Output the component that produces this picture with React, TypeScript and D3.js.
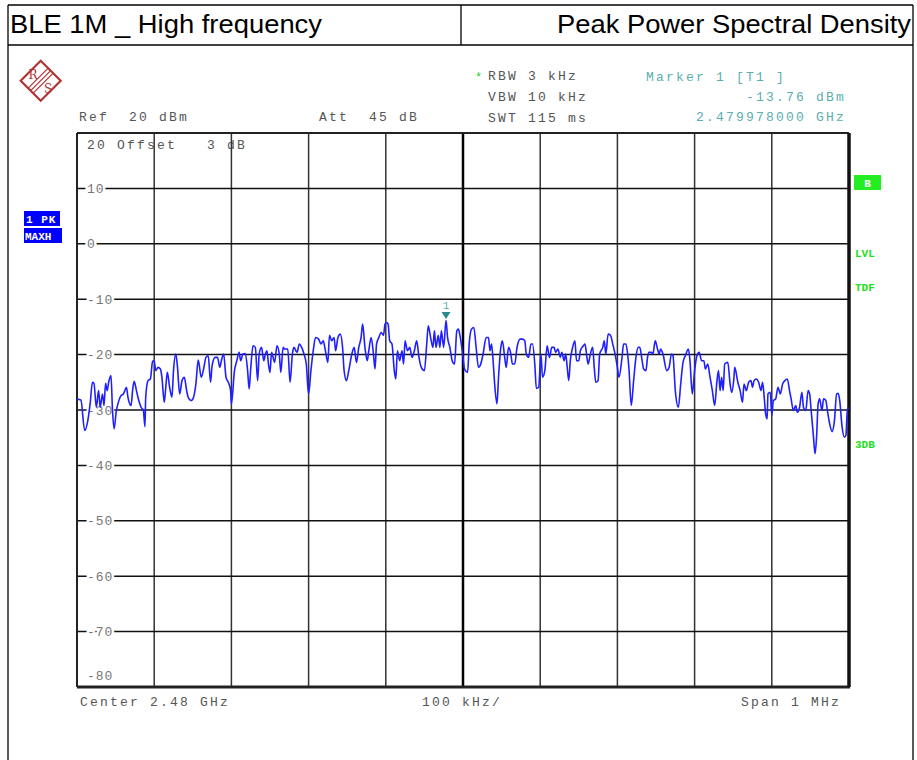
import React from 'react'
import * as d3 from 'd3'

// spectrum trace: [offset from center in kHz, level in dBm]
const trace: [number, number][] = [
  [-500, -28.0], [-495, -28.2], [-490, -33.7], [-486, -31.9], [-483, -28.9], [-480, -25.0], [-478, -25.2],
  [-475, -29.5], [-472, -26.5], [-470, -29.5], [-467, -27.1], [-465, -29.2], [-463, -25.2], [-461, -26.5],
  [-459, -25.0], [-456, -23.8], [-454, -30.1], [-452, -33.4], [-449, -30.1], [-447, -28.9], [-443, -27.4],
  [-440, -27.1], [-438, -26.5], [-436, -25.9], [-434, -27.7], [-430, -29.2], [-428, -26.5], [-426, -24.8],
  [-423, -26.5], [-420, -28.3], [-417, -29.5], [-414, -30.1], [-412, -33.0], [-411, -27.7], [-408, -24.7],
  [-405, -24.4], [-402, -21.2], [-400, -21.1], [-398, -22.9], [-395, -22.3], [-392, -22.6], [-390, -24.1],
  [-387, -28.6], [-385, -25.9], [-383, -23.2], [-380, -25.9], [-377, -27.7], [-375, -22.9], [-372, -19.9],
  [-370, -22.0], [-367, -27.1], [-364, -24.7], [-361, -24.1], [-358, -26.5], [-356, -27.7], [-352, -28.3],
  [-349, -27.7], [-346, -25.3], [-343, -21.0], [-339, -24.1], [-336, -22.6], [-333, -20.5], [-330, -20.2],
  [-327, -25.0], [-325, -22.0], [-321, -20.5], [-318, -20.5], [-315, -22.3], [-313, -21.1], [-310, -19.9],
  [-307, -24.1], [-304, -25.0], [-301, -26.5], [-300, -28.9], [-296, -22.9], [-293, -21.1], [-290, -19.6],
  [-288, -21.1], [-285, -19.9], [-282, -19.8], [-279, -22.9], [-277, -26.2], [-275, -22.6], [-272, -18.4],
  [-269, -18.7], [-266, -24.7], [-264, -19.9], [-261, -18.7], [-258, -21.1], [-256, -19.9], [-254, -19.3],
  [-252, -21.7], [-250, -23.2], [-248, -19.6], [-244, -21.4], [-241, -18.4], [-238, -19.9], [-236, -23.2],
  [-233, -18.7], [-231, -19.0], [-227, -19.0], [-224, -25.0], [-221, -19.9], [-219, -18.7], [-215, -19.6],
  [-212, -18.1], [-209, -18.7], [-206, -19.9], [-203, -21.7], [-200, -27.1], [-197, -22.9], [-194, -19.3],
  [-191, -16.9], [-187, -17.2], [-184, -18.1], [-181, -17.5], [-179, -18.7], [-175, -21.4], [-173, -16.5],
  [-170, -17.5], [-167, -16.9], [-165, -19.3], [-162, -16.9], [-159, -16.3], [-156, -18.7], [-154, -22.9],
  [-151, -24.7], [-148, -22.9], [-144, -19.9], [-141, -18.7], [-138, -21.4], [-135, -18.7], [-132, -16.9],
  [-130, -14.5], [-127, -18.7], [-124, -21.1], [-122, -19.3], [-119, -16.9], [-116, -19.9], [-114, -22.6],
  [-112, -18.1], [-109, -16.9], [-106, -16.0], [-103, -16.5], [-101, -14.5], [-99, -14.2], [-97, -14.5],
  [-95, -17.5], [-92, -18.1], [-89, -22.9], [-87, -24.4], [-85, -19.3], [-82, -21.1], [-79, -19.3],
  [-77, -21.7], [-75, -17.5], [-72, -19.3], [-69, -18.7], [-66, -20.5], [-63, -19.3], [-60, -17.5],
  [-57, -20.5], [-54, -22.3], [-50, -22.9], [-47, -18.1], [-45, -14.8], [-42, -16.9], [-39, -18.7],
  [-37, -15.7], [-35, -18.7], [-32, -16.5], [-30, -18.7], [-28, -15.7], [-25, -18.7], [-22, -13.8],
  [-20, -16.9], [-17, -18.7], [-14, -21.1], [-11, -21.7], [-8, -15.7], [-6, -15.4], [-4, -16.5],
  [-1, -19.3], [2, -22.6], [6, -23.2], [8, -18.1], [11, -15.4], [14, -15.1], [17, -18.7], [20, -22.3],
  [23, -21.7], [26, -19.9], [30, -16.9], [33, -16.9], [35, -19.3], [37, -18.1], [39, -21.1], [41, -25.3],
  [44, -28.9], [46, -24.1], [49, -18.7], [51, -17.5], [54, -20.5], [56, -22.3], [59, -18.7], [62, -19.9],
  [64, -21.7], [67, -21.7], [70, -18.7], [74, -17.2], [77, -17.2], [80, -17.5], [82, -19.9], [85, -20.5],
  [88, -18.1], [90, -18.1], [93, -21.7], [95, -26.1], [98, -25.9], [101, -19.9], [103, -24.1], [106, -22.9],
  [109, -18.4], [112, -20.5], [115, -18.7], [118, -18.7], [120, -19.6], [123, -19.0], [126, -20.5],
  [128, -19.6], [131, -21.1], [133, -19.9], [135, -22.3], [137, -24.7], [139, -21.1], [142, -18.7],
  [145, -17.5], [147, -21.1], [150, -21.1], [152, -19.3], [156, -18.4], [158, -18.1], [160, -19.9],
  [162, -21.7], [165, -19.9], [168, -18.7], [170, -22.3], [172, -25.0], [175, -24.7], [177, -19.9],
  [181, -18.7], [183, -17.5], [185, -19.9], [188, -16.3], [191, -16.5], [194, -18.1], [197, -19.9],
  [200, -22.3], [202, -24.1], [206, -20.5], [208, -18.1], [211, -18.1], [213, -19.6], [215, -22.6],
  [218, -29.2], [221, -24.7], [224, -20.5], [227, -18.7], [229, -18.7], [232, -21.1], [234, -22.6],
  [237, -22.9], [239, -20.5], [241, -19.6], [244, -19.6], [246, -19.9], [249, -17.5], [252, -19.0],
  [254, -19.9], [256, -19.0], [259, -19.9], [264, -22.9], [267, -22.3], [270, -19.9], [272, -20.2],
  [275, -26.5], [279, -29.5], [282, -25.3], [285, -21.4], [288, -20.2], [292, -19.0], [294, -21.1],
  [297, -27.1], [300, -22.9], [303, -20.2], [306, -19.6], [309, -21.1], [312, -21.1], [314, -22.6],
  [317, -21.7], [320, -24.1], [323, -26.5], [326, -29.2], [329, -24.7], [331, -22.9], [333, -26.5],
  [335, -24.1], [337, -26.5], [339, -21.7], [343, -21.4], [346, -25.3], [348, -26.8], [351, -24.1],
  [352, -22.3], [356, -25.0], [359, -26.5], [362, -28.6], [364, -25.3], [367, -26.5], [370, -25.0],
  [373, -24.7], [375, -25.9], [377, -24.7], [380, -24.4], [383, -25.0], [386, -26.5], [388, -25.0],
  [390, -27.4], [392, -30.7], [394, -31.6], [395, -27.1], [398, -26.8], [400, -31.0], [402, -28.3],
  [405, -28.0], [408, -25.9], [411, -27.1], [414, -25.3], [417, -24.7], [420, -24.4], [423, -26.5],
  [425, -28.0], [428, -30.1], [431, -29.2], [433, -30.4], [436, -29.5], [439, -26.8], [441, -29.5],
  [444, -30.1], [447, -26.5], [449, -27.1], [451, -30.1], [454, -34.9], [456, -37.9], [458, -34.9],
  [460, -28.9], [462, -28.0], [465, -30.1], [467, -28.0], [470, -28.3], [472, -30.1], [475, -32.5],
  [478, -33.9], [481, -32.1], [484, -27.1], [486, -27.0], [488, -28.3], [491, -33.0], [494, -34.9],
  [496, -34.6], [498, -29.7], [500, -29.7],
]

const freqGrid = [-400, -300, -200, -100, 100, 200, 300, 400]
const levelGrid = [10, 0, -10, -20, -30, -40, -50, -60, -70]
const levelLabels = ['10', '0', '-10', '-20', '-30', '-40', '-50', '-60', '-70']

const marker = { f: -22, level: -13.76 }

const mono = 'Liberation Mono, DejaVu Sans Mono, monospace'

export default function App() {
  const x = d3.scaleLinear().domain([-500, 500]).range([77, 849])
  const y = d3.scaleLinear().domain([-80, 20]).range([687, 133])
  const line = d3.line<[number, number]>().x(d => x(d[0])).y(d => y(d[1])).curve(d3.curveMonotoneX)

  const infoStyle = { fontFamily: mono, fontSize: 13, letterSpacing: '2.2px', whiteSpace: 'pre' as const }
  const mx = x(marker.f)
  const my = y(marker.level)

  return (
    <svg width={917} height={760} style={{ position: 'absolute', left: 0, top: 0, background: '#fff' }}>
      {/* page frame */}
      <g stroke="#000" strokeWidth={1.3} fill="none">
        <line x1={8} x2={913} y1={5} y2={5} />
        <line x1={8} x2={913} y1={45} y2={45} />
        <line x1={8} x2={8} y1={5} y2={760} />
        <line x1={913} x2={913} y1={5} y2={760} />
        <line x1={461} x2={461} y1={5} y2={45} />
      </g>
      <text x={10} y={33} fontFamily="Liberation Sans, Arial, sans-serif" fontSize={25} textLength={312} lengthAdjust="spacingAndGlyphs">BLE 1M _ High frequency</text>
      <text x={557} y={33} fontFamily="Liberation Sans, Arial, sans-serif" fontSize={25} textLength={354} lengthAdjust="spacingAndGlyphs">Peak Power Spectral Density</text>

      {/* R&S logo */}
      <g stroke="#b03434" fill="none" strokeWidth={2.2}>
        <path d="M20.7,80.7 L40.7,60.7 L60.7,80.7 L40.7,100.7 Z" />
        {[-2.5, 0, 2.5].map(o => (
          <line key={o} x1={30.7 + o} y1={90.7 + o} x2={50.7 + o} y2={70.7 + o} strokeWidth={1.2} />
        ))}
      </g>
      <text x={33} y={79} fontFamily="DejaVu Serif, serif" fontSize={12} fill="#b03434" textAnchor="middle">R</text>
      <text x={48} y={93} fontFamily="DejaVu Serif, serif" fontSize={12} fill="#b03434" textAnchor="middle">S</text>

      {/* instrument settings */}
      <g fill="#555" style={infoStyle}>
        <text x={79} y={121} xmlSpace="preserve">Ref  20 dBm</text>
        <text x={319} y={121} xmlSpace="preserve">Att  45 dB</text>
        <text x={488} y={80}>RBW 3 kHz</text>
        <text x={488} y={101}>VBW 10 kHz</text>
        <text x={488} y={122}>SWT 115 ms</text>
        <text x={80} y={706}>Center 2.48 GHz</text>
        <text x={422} y={706}>100 kHz/</text>
        <text x={741} y={706}>Span 1 MHz</text>
      </g>
      <text x={475} y={81} fill="#22cc22" fontFamily={mono} fontSize={12}>*</text>
      <g fill="#5aaeae" style={infoStyle}>
        <text x={646} y={81}>Marker 1 [T1 ]</text>
        <text x={846} y={101} textAnchor="end">-13.76 dBm</text>
        <text x={846} y={121} textAnchor="end">2.479978000 GHz</text>
      </g>

      {/* offset text sits under grid */}
      <text x={87} y={149} fill="#555" style={infoStyle} xmlSpace="preserve">20 Offset   3 dB</text>
      <text x={87} y={680} fill="#777" fontFamily={mono} fontSize={13} style={{ letterSpacing: '1px' }}>-80</text>

      {/* grid */}
      <g stroke="#333" strokeWidth={1.5}>
        {freqGrid.map(f => (
          <line key={f} x1={x(f)} x2={x(f)} y1={y(20)} y2={y(-80)} />
        ))}
        {levelGrid.map(l => (
          <line key={l} x1={x(-500)} x2={x(500)} y1={y(l)} y2={y(l)} stroke="#111" />
        ))}
      </g>
      <line x1={x(0)} x2={x(0)} y1={y(20)} y2={y(-80)} stroke="#000" strokeWidth={2.5} />
      <g fill="none" stroke="#222">
        <line x1={x(-500)} x2={x(500)} y1={y(20)} y2={y(20)} strokeWidth={2} />
        <line x1={x(-500)} x2={x(-500)} y1={y(20)} y2={y(-80)} strokeWidth={2} />
        <line x1={x(-500)} x2={x(500) + 1} y1={y(-80)} y2={y(-80)} strokeWidth={3} />
        <line x1={x(500)} x2={x(500)} y1={y(20)} y2={y(-80)} strokeWidth={3.5} stroke="#111" />
      </g>

      {/* level labels */}
      <g fill="#777" fontFamily={mono} fontSize={13} style={{ letterSpacing: '1px' }}>
        {levelGrid.map((l, i) => (
          <text key={l} x={87} y={y(l) + 4.5} stroke="#fff" strokeWidth={5} paintOrder="stroke">{levelLabels[i]}</text>
        ))}
      </g>

      {/* trace */}
      <path d={line(trace) || ''} fill="none" stroke="#1f1fff" strokeWidth={1.6} strokeLinejoin="round" />

      {/* marker */}
      <path d={`M${mx - 4.5},${my - 8} L${mx + 4.5},${my - 8} L${mx},${my - 1} Z`} fill="#2a8a8a" />
      <text x={mx} y={my - 11} textAnchor="middle" fill="#5aaeae" fontFamily={mono} fontSize={11}>1</text>

      {/* side annotations */}
      <rect x={24} y={211} width={36} height={15} fill="#0000ff" />
      <rect x={24} y={228} width={38} height={15} fill="#0000ff" />
      <g fill="#fff" fontFamily={mono} fontSize={11} fontWeight="bold">
        <text x={26} y={222.5} style={{ letterSpacing: '1px' }}>1 PK</text>
        <text x={25} y={239.5}>MAXH</text>
      </g>
      <rect x={854} y={175} width={27} height={15} fill="#22ee22" />
      <text x={867.5} y={186.5} textAnchor="middle" fill="#fff" fontFamily={mono} fontSize={11} fontWeight="bold">B</text>
      <g fill="#22dd22" fontFamily={mono} fontSize={11} fontWeight="bold">
        <text x={855} y={257}>LVL</text>
        <text x={855} y={291}>TDF</text>
        <text x={855} y={448}>3DB</text>
      </g>
    </svg>
  )
}
